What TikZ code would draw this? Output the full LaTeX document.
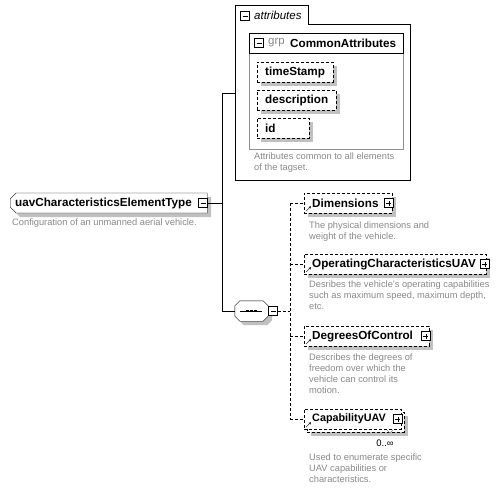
\documentclass[tikz,border=0pt]{standalone}
\usepackage{fontspec}
\setmainfont{Liberation Sans}
\usetikzlibrary{shapes.misc, shadows, arrows.meta}

\definecolor{descgray}{HTML}{888888}
\definecolor{shadowgray}{HTML}{C0C0C0}
\definecolor{framegray}{HTML}{909090}

\tikzset{
    optline/.style={dash pattern=on 3pt off 2pt},
    box/.style={draw, optline, fill=white, anchor=west, align=left, minimum height=20pt,
        inner xsep=8pt, inner ysep=0pt, font=\bfseries\fontsize{11.7}{13}\selectfont},
    shadowed/.style={drop shadow={shadow xshift=4pt, shadow yshift=-4pt, fill=shadowgray, opacity=1}},
    elem/.style={box, shadowed},
    toggle/.style={draw, solid, fill=white, minimum size=9pt, inner sep=0pt},
    collapse/.style={toggle, path picture={
        \draw ([xshift=2pt]path picture bounding box.west) -- ([xshift=-2pt]path picture bounding box.east);}},
    expand/.style={toggle, path picture={
        \draw ([xshift=2pt]path picture bounding box.west) -- ([xshift=-2pt]path picture bounding box.east);
        \draw ([yshift=2pt]path picture bounding box.south) -- ([yshift=-2pt]path picture bounding box.north);}},
    desc/.style={anchor=north west, inner sep=0pt, align=left, text=descgray, font=\fontsize{9.3}{11}\selectfont},
    refarrow/.style={-{Stealth[length=2.5pt, width=2.5pt]}}
}

\begin{document}
\begin{tikzpicture}[x=1pt, y=-1pt]
       \useasboundingbox (0,0) rectangle (500,491);

       % 1. The complex type and its description
       \node[box, shadowed, solid, chamfered rectangle, chamfered rectangle corners={north west, south west},
             chamfered rectangle xsep=3pt, chamfered rectangle ysep=3pt, inner xsep=2pt,
             text width=187pt] (main) at (10,203) {uavCharacteristicsElementType};
       \node[collapse] (maintog) at (203,203) {};
       \node[desc] (maindesc) at (12,219) {Configuration of an unmanned aerial vehicle.};

       % 2. The attributes frame with the attribute group
       \node[anchor=north west, minimum width=175pt, minimum height=175pt, inner sep=0pt] (attrbox) at (235,5) {};
       \node[anchor=north west, minimum width=73pt, minimum height=19pt, inner sep=0pt] (attrtab) at (235,5) {};
       \draw (attrbox.south west) -- (attrtab.north west) -- (attrtab.north east) -- (attrtab.south east)
             -- (attrtab.south east -| attrbox.east) -- (attrbox.south east) -- cycle;
       \node[collapse] (attrtog) at (245,16) {};
       \node[anchor=west, inner sep=0pt, font=\itshape\fontsize{11.5}{13}\selectfont] (attrlabel) at (254,15) {attributes};

       \draw[framegray] (249,33) rectangle (403,149);
       \draw (249,33) rectangle (403,53);
       \node[collapse] (grptog) at (259,43) {};
       \node[anchor=west, inner sep=0pt, text=descgray, font=\fontsize{11.5}{13}\selectfont] (grpkind) at (268,43) {grp};
       \node[anchor=west, inner sep=0pt, font=\bfseries\fontsize{11.7}{13}\selectfont] (grpname) at (290,43) {CommonAttributes};

       \node[elem, text width=60pt] (timestamp) at (257,72) {timeStamp};
       \node[elem, text width=63pt] (description) at (257,100) {description};
       \node[elem, text width=36pt] (id) at (257,128) {id};
       \node[desc] (attrdesc) at (254,153) {Attributes common to all elements\\of the tagset.};

       % 3. The sequence compositor
       \node[minimum width=33pt, minimum height=20pt, inner sep=0pt] (seq) at (251.5,311) {};
       \draw[fill=white, shadowed] ([yshift=5pt]seq.south west) -- ([yshift=-5pt]seq.north west)
             -- ([xshift=5pt]seq.north west) -- ([xshift=-5pt]seq.north east) -- ([yshift=-5pt]seq.north east)
             -- ([yshift=5pt]seq.south east) -- ([xshift=-5pt]seq.south east) -- ([xshift=5pt]seq.south west) -- cycle;
       \draw ([xshift=5pt]seq.west) -- ([xshift=-6pt]seq.east);
       \foreach \dx in {-4,0,4}
           \fill ([shift={(\dx-1.2,-1.2)}]seq.center) rectangle ++(2.4,2.4);
       \node[collapse] (seqtog) at (273,311) {};

       % 4. The child elements of the sequence
       \node[elem, text width=72pt] (dim) at (304,203) {Dimensions};
       \node[expand, anchor=east] at ([xshift=1pt]dim.east) (dimtog) {};
       \node[desc] (dimdesc) at (309,222) {The physical dimensions and\\weight of the vehicle.};

       \node[elem, text width=166pt] (opchar) at (304,264) {OperatingCharacteristicsUAV};
       \node[expand, anchor=east] at ([xshift=3pt]opchar.east) (opchartog) {};
       \node[desc] (opchardesc) at (309,281) {Desribes the vehicle's operating capabilities\\such as maximum speed, maximum depth,\\etc.};

       \node[elem, text width=109pt] (dof) at (304,336) {DegreesOfControl};
       \node[expand, anchor=east] at ([xshift=1pt]dof.east) (doftog) {};
       \node[desc] (dofdesc) at (309,354) {Describes the degrees of\\freedom over which the\\vehicle can control its\\motion.};

       \node[elem, text width=81pt] (capback) at (307,422) {\strut};
       \node[box, text width=81pt, font=\bfseries\fontsize{10.8}{13}\selectfont] (cap) at (304,419) {CapabilityUAV};
       \node[expand, anchor=east] at ([xshift=1pt]cap.east) (captog) {};
       \draw[descgray] (387,430) -- (390,433) -- (393,430);
       \node[font=\fontsize{9.5}{11}\selectfont] (capocc) at (385,443) {0..∞};
       \node[desc] (capdesc) at (309,454) {Used to enumerate specific\\UAV capabilities or\\characteristics.};

       % 5. Connectors
       \coordinate (trunk) at (222,0);
       \coordinate (bus) at (290,0);
       \draw (maintog.east) -- (trunk |- maintog.east);
       \draw (trunk |- attrbox.west) -- (trunk |- seq.west);
       \draw (trunk |- attrbox.west) -- (attrbox.west);
       \draw (trunk |- seq.west) -- (seq.west);
       \draw[optline] (seqtog.east) -- (bus |- seqtog.east);
       \draw[optline] (bus |- dim.west) -- (bus |- cap.west);
       \foreach \n in {dim, opchar, dof, cap} {
           \draw[optline] (bus |- \n.west) -- (\n.west);
           \draw[refarrow] ([shift={(2,-2)}]\n.south west) -- ++(5,-5);
       }

    \end{tikzpicture}
\end{document}
